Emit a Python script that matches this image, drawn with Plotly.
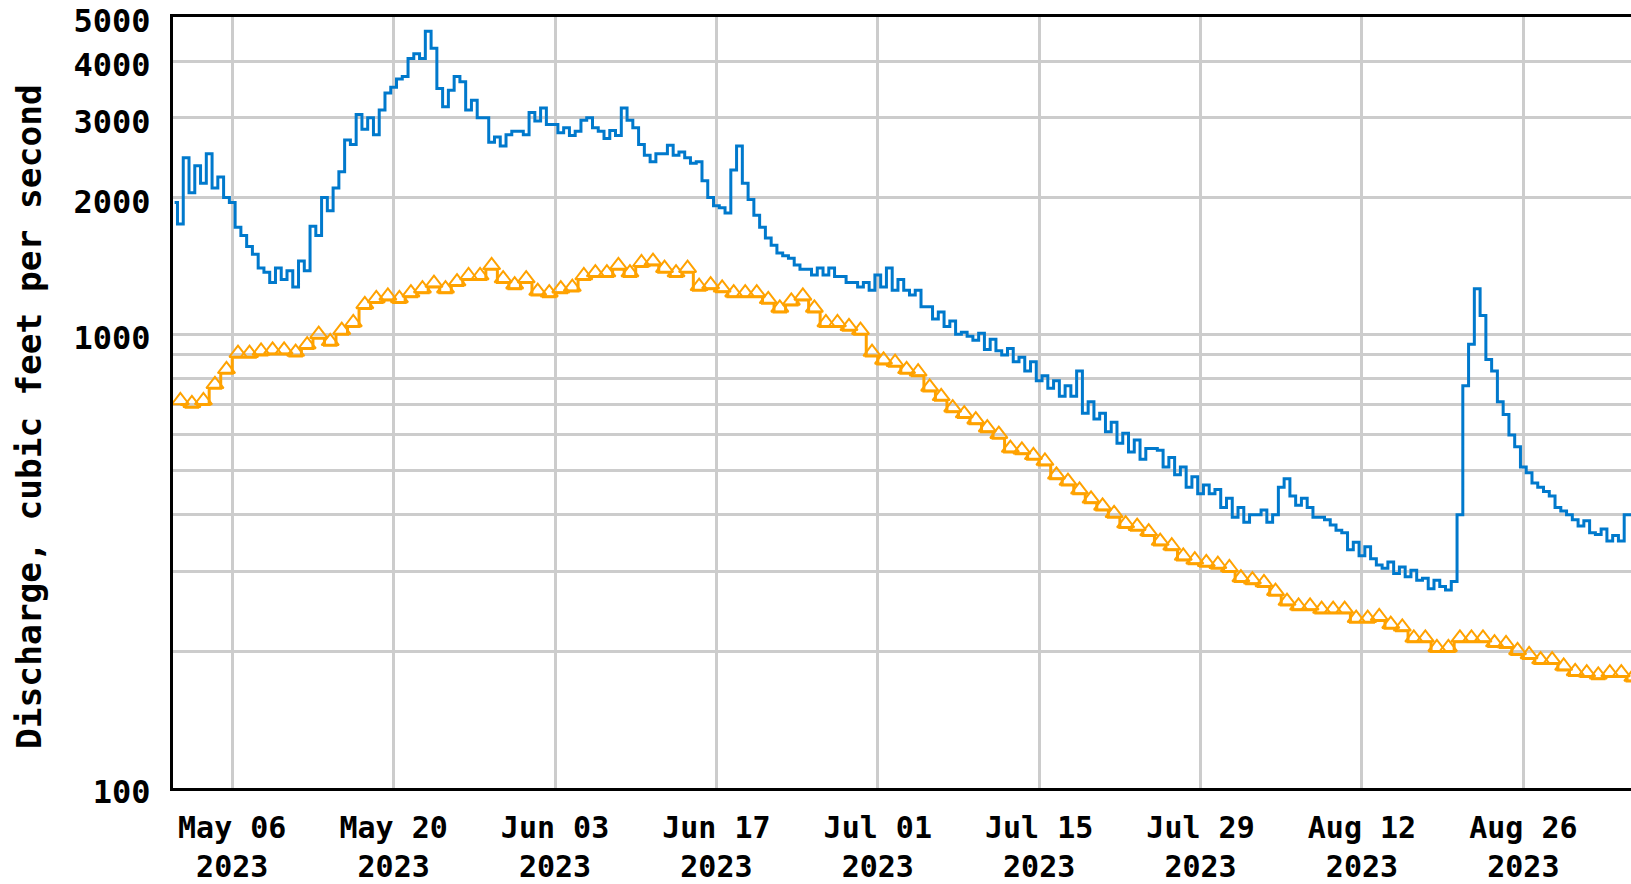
import math
import pandas as pd
import plotly.graph_objects as go

# Discharge (cubic feet per second), readings every 12 hours starting 2023-05-01 00:00
discharge_start = "2023-05-01 00:00"
discharge_cfs = [
    1950, 1750, 2450, 2050, 2350, 2150, 2500, 2100, 2220, 2000,
    1950, 1720, 1650, 1560, 1500, 1400, 1370, 1300, 1400, 1320,
    1380, 1270, 1450, 1380, 1730, 1650, 2000, 1870, 2100, 2280,
    2680, 2620, 3050, 2830, 3000, 2750, 3120, 3400, 3500, 3650,
    3700, 4050, 4150, 4050, 4650, 4270, 3480, 3170, 3450, 3700,
    3600, 3120, 3280, 3000, 3000, 2650, 2720, 2600, 2750, 2800,
    2800, 2750, 3080, 2950, 3150, 2900, 2900, 2780, 2850, 2740,
    2800, 2960, 3000, 2850, 2800, 2700, 2810, 2740, 3150, 2960,
    2850, 2620, 2480, 2400, 2500, 2500, 2610, 2480, 2520, 2450,
    2380, 2400, 2180, 2000, 1920, 1900, 1850, 2300, 2600, 2150,
    1980, 1830, 1720, 1630, 1570, 1510, 1490, 1470, 1420, 1390,
    1390, 1350, 1400, 1350, 1400, 1340, 1340, 1300, 1300, 1270,
    1300, 1250, 1350, 1270, 1400, 1250, 1320, 1250, 1220, 1250,
    1150, 1150, 1080, 1120, 1040, 1070, 1000, 1010, 990, 970,
    1005, 925, 975, 920, 900, 930, 870, 890, 830, 870,
    790, 810, 760, 790, 730, 770, 730, 830, 670, 710,
    650, 670, 610, 640, 575, 605, 550, 585, 530, 560,
    560, 555, 510, 535, 490, 510, 460, 485, 445, 465,
    445, 455, 415, 435, 395, 415, 385, 400, 400, 410,
    385, 400, 460, 480, 440, 420, 435, 415, 395, 395,
    390, 380, 370, 365, 335, 348, 325, 340, 320, 310,
    305, 315, 297, 307, 292, 302, 287, 290, 275, 287,
    278, 273, 285, 400, 770, 950, 1260, 1100, 880, 830,
    710, 665, 600, 565, 510, 495, 470, 460, 450, 440,
    415, 408, 400, 390, 378, 388, 365, 362, 372, 350,
    360, 350, 400, 400,
]

# Median daily statistic (cubic feet per second), one value per day starting 2023-05-01
median_start = "2023-05-01 12:00"
median_cfs = [
    700, 690, 700, 760, 820, 890, 890, 900, 905, 905,
    895, 930, 980, 945, 1000, 1040, 1140, 1175, 1190, 1175,
    1210, 1235, 1270, 1235, 1280, 1320, 1320, 1390, 1300, 1260,
    1300, 1220, 1210, 1235, 1245, 1320, 1340, 1340, 1390, 1340,
    1410, 1420, 1370, 1340, 1370, 1250, 1260, 1240, 1210, 1210,
    1210, 1170, 1120, 1160, 1190, 1120, 1040, 1040, 1020, 1000,
    895, 860, 850, 820, 810, 750, 715, 675, 655, 635,
    610, 590, 550, 545, 530, 515, 480, 465, 445, 425,
    410, 395, 375, 370, 360, 343, 335, 318, 312, 308,
    305, 300, 285, 282, 278, 266, 253, 247, 247, 243,
    243, 243, 232, 232, 234, 225, 222, 210, 210, 200,
    200, 210, 210, 210, 205, 204, 197, 193, 188, 188,
    182, 177, 176, 174, 176, 176, 172,
]

x_tick_dates = ["2023-05-06", "2023-05-20", "2023-06-03", "2023-06-17", "2023-07-01",
                "2023-07-15", "2023-07-29", "2023-08-12", "2023-08-26"]
x_tick_labels = ["May 06<br>2023", "May 20<br>2023", "Jun 03<br>2023", "Jun 17<br>2023",
                 "Jul 01<br>2023", "Jul 15<br>2023", "Jul 29<br>2023", "Aug 12<br>2023",
                 "Aug 26<br>2023"]
y_tick_values = [100, 200, 300, 400, 500, 600, 700, 800, 900, 1000, 2000, 3000, 4000, 5000]
y_tick_labels = ["100", "", "", "", "", "", "", "", "", "1000", "2000", "3000", "4000", "5000"]
y_title = "Discharge, cubic feet per second"
x_range = ["2023-04-30 20:40", "2023-09-04 08:10"]
y_range = [100, 5000]

FONT = "DejaVu Sans Mono"
BLUE = "#0079CC"
ORANGE = "#FFA200"
GRID = "#CCCCCC"

discharge_time = pd.date_range(discharge_start, periods=len(discharge_cfs), freq="12h")
median_time = pd.date_range(median_start, periods=len(median_cfs), freq="D")

fig = go.Figure()
fig.add_trace(go.Scatter(
    x=median_time, y=median_cfs, mode="lines+markers",
    line=dict(color=ORANGE, width=3, shape="hvh"),
    marker=dict(symbol="triangle-down-open", angle=180, standoff=4, size=15,
                color=ORANGE, line=dict(color=ORANGE, width=2)),
    name="Median daily statistic",
))
fig.add_trace(go.Scatter(
    x=discharge_time, y=discharge_cfs, mode="lines",
    line=dict(color=BLUE, width=3, shape="hvh"),
    name="Discharge",
))

fig.update_layout(
    width=1631, height=884,
    margin=dict(l=173, r=0, t=17, b=96, pad=0),
    paper_bgcolor="white", plot_bgcolor="white",
    showlegend=False,
    font=dict(family=FONT, size=32, color="black", weight="bold"),
)
fig.update_xaxes(
    range=x_range, tickmode="array", tickvals=x_tick_dates, ticktext=x_tick_labels,
    tickangle=0, tickfont=dict(family=FONT, size=30, color="black", weight="bold"),
    showgrid=True, gridcolor=GRID, gridwidth=3,
    showline=True, linecolor="black", linewidth=3, mirror=True,
    ticks="", ticklabelstandoff=11, zeroline=False, automargin=False,
    ticklabeloverflow="allow",
)
fig.update_yaxes(
    type="log", range=[math.log10(y_range[0]), math.log10(y_range[1]) + 1e-4],
    tickmode="array", tickvals=y_tick_values, ticktext=y_tick_labels,
    tickfont=dict(family=FONT, size=32, color="black", weight="bold"),
    showgrid=True, gridcolor=GRID, gridwidth=3,
    showline=True, linecolor="black", linewidth=3,
    ticks="", ticklabelstandoff=13, ticklabelshift=4, zeroline=False, automargin=False,
    ticklabeloverflow="allow",
)
fig.add_annotation(
    text=y_title, textangle=-90, showarrow=False,
    xref="paper", yref="paper", x=-0.0988, y=0.4825,
    xanchor="center", yanchor="middle",
    font=dict(family=FONT, size=34.5, color="black", weight="bold"),
)

fig.write_html("out.html", include_plotlyjs=True, config={"displayModeBar": False},
               post_script="document.body.style.margin='0';document.body.style.overflow='hidden';")
